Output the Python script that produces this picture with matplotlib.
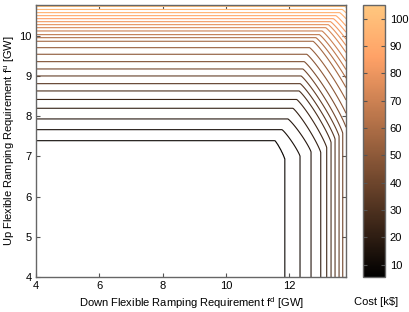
import numpy as np
import matplotlib
matplotlib.use("Agg")
import matplotlib.pyplot as plt
from matplotlib.colors import Normalize
from matplotlib.cm import ScalarMappable

plt.rcParams['font.family'] = ['Liberation Sans', 'DejaVu Sans']
plt.rcParams['mathtext.default'] = 'regular'

# ---- data ----
cost_min, cost_max = 5.5, 105.0
levels = [9.5, 13.5, 17.5, 21.5, 25.5, 29.5, 33.5, 37.5, 41.5, 45.5, 49.5, 53.5,
          57.5, 61.5, 65.5, 69.5, 73.5, 77.5, 81.5, 85.5, 89.5, 93.5, 97.5, 101.5]
# up requirement where each cost contour runs flat (GW)
flat_up = [7.398, 7.667, 7.934, 8.200, 8.419, 8.631, 8.812, 9.004, 9.178, 9.360,
           9.544, 9.708, 9.868, 9.957, 10.032, 10.124, 10.206, 10.281, 10.355,
           10.430, 10.505, 10.580, 10.659, 10.734]
# down requirement where each cost contour runs vertical (GW)
flat_down = [11.865, 12.339, 12.686, 12.993, 13.182, 13.318, 13.444, 13.571, 13.687,
             13.80, 13.91, 14.03, 14.14, 14.26, 14.37, 14.48, 14.60, 14.71, 14.82,
             14.94, 15.05, 15.17, 15.28, 15.39]
# size of the bent corner of each contour (GW along down / up axis)
corner_down = [0.32, 0.57, 0.73, 0.88, 0.95, 1.01, 1.10, 1.20, 1.26, 1.33, 1.36, 1.39,
               1.39, 1.42, 1.42, 1.45, 1.45, 1.48, 1.52, 1.55, 1.58, 1.58, 1.61, 1.64]
corner_up = [0.47, 0.66, 0.82, 1.10, 1.20, 1.28, 1.38, 1.50, 1.60, 1.66, 1.70, 1.72,
             1.73, 1.74, 1.75, 1.76, 1.77, 1.78, 1.80, 1.82, 1.84, 1.86, 1.88, 1.90]
corner_shape = 1.15

xticks = [4, 6, 8, 10, 12]
yticks = [4, 5, 6, 7, 8, 9, 10]
cticks = [10, 20, 30, 40, 50, 60, 70, 80, 90, 100]
xlim = (4.0, 13.79)
ylim = (4.0, 10.77)

# ---- build cost surface whose contours follow the read positions ----
Lx = np.array([cost_min] + levels + [cost_max])
Xc = np.array([4.0] + flat_down + [15.6])
Yc = np.array([4.0] + flat_up + [10.8])
Wc = np.array([0.05] + corner_down + [corner_down[-1]])
Hc = np.array([0.05] + corner_up + [corner_up[-1]])

xg = np.linspace(xlim[0], xlim[1], 700)
yg = np.linspace(ylim[0], ylim[1], 700)
XX, YY = np.meshgrid(xg, yg)


def inside(L):
    X = np.interp(L, Lx, Xc)
    Y = np.interp(L, Lx, Yc)
    W = np.interp(L, Lx, Wc)
    H = np.interp(L, Lx, Hc)
    u = np.clip((XX - (X - W)) / W, 0, None)
    v = np.clip((YY - (Y - H)) / H, 0, None)
    return u ** corner_shape + v ** corner_shape <= 1.0


lo = np.full(XX.shape, cost_min)
hi = np.full(XX.shape, cost_max)
for _ in range(40):
    mid = 0.5 * (lo + hi)
    ins = inside(mid)
    hi = np.where(ins, mid, hi)
    lo = np.where(ins, lo, mid)
Z = 0.5 * (lo + hi)

# ---- figure ----
fig = plt.figure(figsize=(4.09, 3.12), dpi=100)
ax = fig.add_axes([36 / 409, 1 - 277 / 312, 310 / 409, 272 / 312])
norm = Normalize(vmin=cost_min, vmax=cost_max)
cmap = plt.get_cmap('copper')
ax.contour(XX, YY, Z, levels=levels, cmap=cmap, norm=norm, linewidths=0.8)

ax.set_xlim(*xlim)
ax.set_ylim(*ylim)
ax.set_xticks(xticks)
ax.set_yticks(yticks)
ax.tick_params(direction='in', length=3, width=0.8, labelsize=8, top=True, right=True,
               color='#555555', pad=3)
for s in ax.spines.values():
    s.set_color('#666666')
    s.set_linewidth(1.0)
ax.set_xlabel(r'Down Flexible Ramping Requirement f$^{d}$ [GW]', fontsize=8, labelpad=3)
ax.set_ylabel(r'Up Flexible Ramping Requirement f$^{u}$ [GW]', fontsize=8, labelpad=2)

cax = fig.add_axes([363 / 409, 1 - 277 / 312, 22 / 409, 272 / 312])
cb = fig.colorbar(ScalarMappable(norm=norm, cmap=cmap), cax=cax)
cb.set_ticks(cticks)
cb.outline.set_edgecolor('#666666')
cb.outline.set_linewidth(1.0)
cax.tick_params(direction='in', length=3, width=0.8, labelsize=8, left=True, right=True,
                color='#555555')
fig.text(376 / 409, 1 - 302 / 312, r'Cost [k\$]', fontsize=8, ha='center', va='center')

fig.savefig('out.png', dpi=100)
